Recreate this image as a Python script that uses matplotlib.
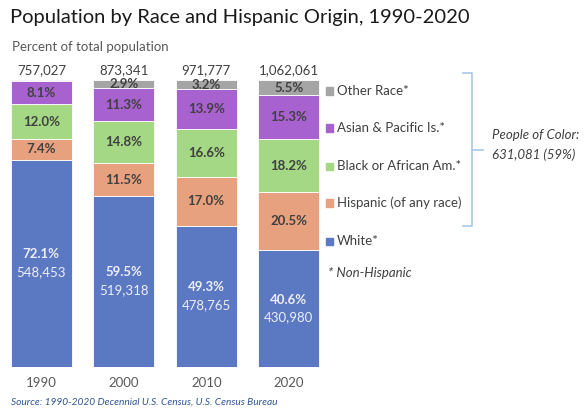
import matplotlib.pyplot as plt

plt.rcParams['font.family'] = ['Lato', 'DejaVu Sans']

# data
years = ['1990', '2000', '2010', '2020']
totals = ['757,027', '873,341', '971,777', '1,062,061']
white = [72.1, 59.5, 49.3, 40.6]
white_counts = ['548,453', '519,318', '478,765', '430,980']
hispanic = [7.4, 11.5, 17.0, 20.5]
black = [12.0, 14.8, 16.6, 18.2]
asian = [8.1, 11.3, 13.9, 15.3]
other = [0.4, 2.9, 3.2, 5.5]

series = [
    ('White*', white, '#5B78C3'),
    ('Hispanic (of any race)', hispanic, '#E8A17F'),
    ('Black or African Am.*', black, '#A4D884'),
    ('Asian & Pacific Is.*', asian, '#A862CF'),
    ('Other Race*', other, '#A5A5A5'),
]

W, H = 585, 408
fig = plt.figure(figsize=(W / 100, H / 100), dpi=100)
ax = fig.add_axes([0, 1 - 367 / H, 330 / W, 287 / H])

x = list(range(len(years)))
bottoms = [0.0] * len(years)
for name, vals, color in series:
    ax.bar(x, vals, width=0.74, bottom=bottoms, color=color, edgecolor='white', linewidth=0.6)
    for i, v in enumerate(vals):
        mid = bottoms[i] + v / 2
        if name == 'White*':
            ax.text(i, mid + 3.2, f'{v:.1f}%', ha='center', va='center', fontsize=9.5,
                    fontweight='bold', color='#EEEEF6')
            ax.text(i, mid - 3.0, white_counts[i], ha='center', va='center', fontsize=9.5,
                    color='#EEEEF6')
        elif v >= 1:
            ax.text(i, mid, f'{v:.1f}%', ha='center', va='center', fontsize=9.5,
                    fontweight='bold', color='#404040')
    bottoms = [b + v for b, v in zip(bottoms, vals)]

ax.set_xlim(-0.5, len(years) - 0.5)
ax.set_ylim(0, 100)
ax.axis('off')

# year labels and totals
for i, (yr, tot) in enumerate(zip(years, totals)):
    ax.text(i, -5.6, yr, ha='center', va='center', fontsize=9.5, color='#595959')
    ax.text(i, 103.5, tot, ha='center', va='center', fontsize=9.5, color='#404040')

# titles
fig.text(10 / W, 1 - 18 / H, 'Population by Race and Hispanic Origin, 1990-2020',
         fontsize=14.5, color='#1a1a1a', va='center', ha='left')
fig.text(12 / W, 1 - 47 / H, 'Percent of total population', fontsize=9.5,
         color='#595959', va='center', ha='left')
fig.text(11 / W, 1 - 402 / H, 'Source: 1990-2020 Decennial U.S. Census, U.S. Census Bureau',
         fontsize=7.3, style='italic', color='#2F5597', va='center', ha='left')

# legend
leg_rows = [91, 128, 166, 203, 241]
for (name, vals, color), y in zip(series[::-1], leg_rows):
    fig.patches.append(plt.Rectangle((326 / W, 1 - (y + 3.5) / H), 7 / W, 7 / H,
                                     transform=fig.transFigure, color=color))
    fig.text(337 / W, 1 - y / H, name, fontsize=9.5, color='#404040', va='center', ha='left')
fig.text(328 / W, 1 - 273 / H, '* Non-Hispanic', fontsize=9.5, style='italic',
         color='#404040', va='center', ha='left')

# bracket for people of color
bc = '#A9C7E8'
fig.add_artist(plt.Line2D([463 / W, 472 / W, 472 / W, 463 / W],
                          [1 - 73 / H, 1 - 73 / H, 1 - 226 / H, 1 - 226 / H],
                          color=bc, linewidth=1.2, transform=fig.transFigure))
fig.add_artist(plt.Line2D([472 / W, 483 / W], [1 - 150 / H, 1 - 150 / H],
                          color=bc, linewidth=1.2, transform=fig.transFigure))
fig.text(492 / W, 1 - 135 / H, 'People of Color:', fontsize=9.5, style='italic',
         color='#404040', va='center', ha='left')
fig.text(492 / W, 1 - 155 / H, '631,081 (59%)', fontsize=9.5, style='italic',
         color='#404040', va='center', ha='left')

fig.savefig('out.png', dpi=100)
